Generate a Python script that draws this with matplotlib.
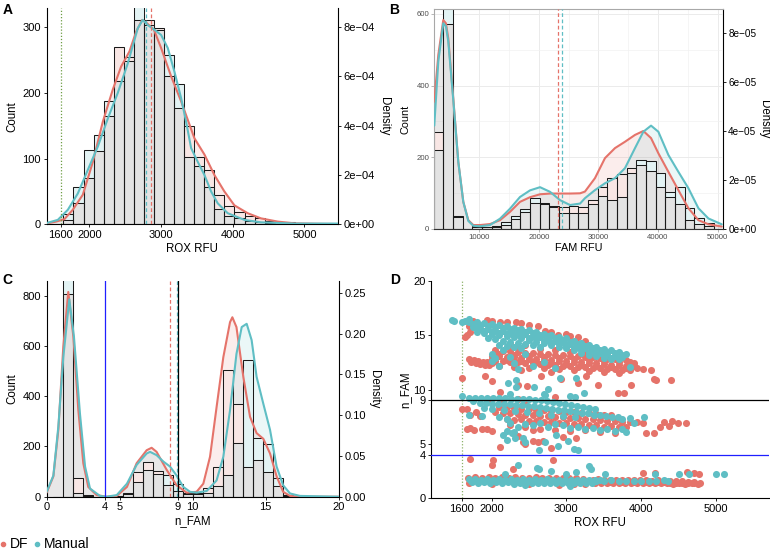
import matplotlib.pyplot as plt
import numpy as np
from matplotlib.lines import Line2D

plt.rcParams['font.family'] = ['Liberation Sans', 'DejaVu Sans']
plt.rcParams['axes.unicode_minus'] = True

RED = '#E5736A'
CYAN = '#5FBEC4'
RED_TINT = '#F8E6E4'
CYAN_TINT = '#E3F3F4'
GREY = '#E3E3E3'
MINUS = '\u2212'

# ---------------- A: ROX RFU ----------------
a_edges = [1636, 1776, 1917, 2057, 2198, 2338, 2479, 2620, 2760, 2900, 3041, 3182,
           3322, 3462, 3603, 3744, 3884, 4024, 4165, 4306, 4446, 4586, 4727, 4868]
a_df = [7, 32, 70, 111, 164, 270, 254, 310, 310, 298, 225, 177, 149, 103, 83, 45, 28, 18, 13, 9, 5, 3, 4]
a_man = [15, 56, 113, 136, 188, 218, 248, 335, 303, 296, 258, 214, 102, 88, 57, 23, 13, 9, 5, 3, 2, 1, 0]
# density curves (x1e-4)
a_df_x = [1400, 1535, 1650, 1767, 1907, 2047, 2186, 2326, 2442, 2558, 2651, 2735, 2800, 2900,
          3000, 3140, 3279, 3465, 3605, 3744, 3884, 4023, 4209, 4395, 4628, 4860, 5200, 5470]
a_df_d = [0.03, 0.11, 0.21, 0.59, 1.20, 2.53, 4.16, 5.47, 6.40, 7.01, 7.81, 8.29, 8.16, 7.89,
          7.15, 6.00, 4.99, 3.49, 2.83, 2.00, 1.33, 0.77, 0.45, 0.24, 0.11, 0.04, 0.02, 0.01]
a_man_x = [1400, 1558, 1698, 1837, 1977, 2116, 2256, 2395, 2535, 2674, 2744, 2814, 2907, 3000,
           3093, 3186, 3279, 3349, 3419, 3512, 3605, 3698, 3791, 3930, 4163, 4395, 4860, 5200, 5470]
a_man_d = [0.05, 0.18, 0.59, 1.25, 2.21, 3.15, 4.29, 5.33, 6.53, 7.95, 8.29, 8.08, 7.89, 7.68,
           7.15, 6.19, 5.12, 4.16, 3.09, 2.53, 2.00, 1.33, 0.85, 0.45, 0.18, 0.08, 0.03, 0.03, 0.03]
a_mean_df, a_mean_man, rox_cut = 2860, 2795, 1600

# ---------------- B: FAM RFU ----------------
b_edges = [2340, 3960, 5580, 7200, 8820, 10440, 12060, 13680, 15300, 16920, 18540, 20160, 21780,
           23400, 25020, 26640, 28260, 29880, 31500, 33120, 34740, 36360, 37980, 39600, 41220,
           42840, 44460, 46080, 47700, 49320]
b_df = [270, 572, 36, 0, 7, 6, 8, 10, 27, 46, 71, 68, 64, 61, 64, 62, 80, 117, 141, 152,
        169, 178, 162, 117, 89, 68, 24, 12, 8]
b_man = [220, 650, 34, 0, 5, 4, 5, 20, 36, 55, 85, 73, 62, 43, 43, 43, 69, 92, 80, 88,
         157, 192, 189, 155, 102, 117, 57, 29, 15]
# density curves (x1e-5)
b_x = [2450, 3125, 3960, 4408, 4800, 5640, 6480, 7320, 8160, 9000, 10120, 11800, 13480, 15160,
       16840, 18520, 20200, 21880, 23560, 25240, 26920, 27740, 29420, 31100, 32780, 34460,
       36140, 37540, 38830, 40060, 41740, 43420, 45100, 46780, 48460, 50700]
b_df_d = [5.20, 7.11, 8.54, 8.41, 7.79, 5.33, 2.74, 1.10, 0.35, 0.15, 0.15, 0.19, 0.35, 0.69,
          1.10, 1.29, 1.41, 1.44, 1.44, 1.44, 1.45, 1.52, 2.07, 2.89, 3.30, 3.56, 3.84, 4.00,
          3.71, 3.09, 2.33, 1.58, 0.84, 0.35, 0.18, 0.09]
b_man_d = [4.22, 6.84, 8.41, 8.28, 7.66, 5.27, 2.74, 1.10, 0.32, 0.12, 0.10, 0.15, 0.41, 0.82,
           1.30, 1.57, 1.70, 1.51, 1.17, 0.97, 1.03, 1.25, 1.58, 1.86, 2.07, 2.48, 3.30, 3.97,
           4.22, 3.97, 3.02, 2.33, 1.66, 0.84, 0.42, 0.18]
b_mean_df, b_mean_man = 23140, 23970

# ---------------- C: n_FAM ----------------
c_edges = [0.45, 1.135, 1.82, 2.505, 3.19, 3.875, 4.56, 5.245, 5.93, 6.615, 7.30, 7.985, 8.67,
           9.355, 10.04, 10.725, 11.41, 12.095, 12.78, 13.465, 14.15, 14.835, 15.52, 16.205, 16.89]
c_df = [0, 809, 74, 6, 0, 0, 2, 16, 97, 139, 103, 46, 24, 10, 13, 33, 119, 504, 369, 117, 146, 100, 44, 4]
c_man = [0, 880, 13, 3, 0, 0, 1, 10, 60, 107, 90, 87, 49, 14, 9, 13, 44, 86, 212, 544, 235, 210, 73, 7]
c_df_x = [0, 0.46, 0.8, 1.14, 1.48, 1.83, 2.17, 2.51, 2.85, 3.42, 4.1, 4.8, 5.5, 6.16, 6.85, 7.19,
          7.53, 8.22, 8.9, 9.59, 10.27, 10.73, 11.19, 11.64, 12.1, 12.56, 12.72, 13.0, 13.47,
          13.93, 14.38, 14.84, 15.3, 15.75, 16.2, 16.67, 17.35, 20]
c_df_d = [0.005, 0.025, 0.082, 0.184, 0.251, 0.196, 0.106, 0.041, 0.012, 0.002, 0.0, 0.001, 0.012,
          0.041, 0.057, 0.060, 0.055, 0.033, 0.014, 0.005, 0.006, 0.016, 0.049, 0.110, 0.171,
          0.214, 0.220, 0.208, 0.147, 0.098, 0.078, 0.071, 0.053, 0.025, 0.006, 0.001, 0.0, 0.0]
c_man_x = [0, 0.46, 0.8, 1.14, 1.55, 1.87, 2.28, 2.63, 2.97, 3.65, 4.1, 4.8, 5.5, 6.16, 6.85, 7.08,
           7.53, 8.0, 8.45, 8.9, 9.36, 9.82, 10.27, 10.96, 11.64, 12.1, 12.56, 13.0, 13.36, 13.7,
           14.04, 14.38, 14.84, 15.3, 15.75, 16.2, 16.67, 17.35, 20]
c_man_d = [0.006, 0.026, 0.086, 0.171, 0.242, 0.196, 0.102, 0.037, 0.010, 0.001, 0.0, 0.002, 0.016,
           0.039, 0.053, 0.055, 0.051, 0.043, 0.037, 0.026, 0.012, 0.006, 0.005, 0.007, 0.020,
           0.049, 0.106, 0.175, 0.208, 0.212, 0.192, 0.147, 0.114, 0.082, 0.037, 0.014, 0.004,
           0.001, 0.0]
c_mean_df, c_mean_man = 8.45, 8.9
nfam_neg, nfam_pos = 4, 9

# ---------------- D: ROX RFU vs n_FAM ----------------
df_upper = [
    (1756, 16.3), (1933, 16.4), (2000, 16.3), (2111, 16.25), (2200, 16.2), (2333, 16.2), (2400, 16.1),
    (2500, 15.95), (2622, 15.8), (2711, 15.4), (2800, 15.25), (2889, 15.0), (3000, 15.15), (3050, 14.9),
    (3150, 14.8), (3250, 14.5), (1700, 15.8), (1711, 15.3), (1667, 15.0), (1644, 14.85),
    (1700, 12.8), (1760, 12.7), (1820, 12.6), (1880, 12.55), (1940, 12.5), (2000, 12.4), (1730, 12.5),
    (1790, 12.45), (1850, 12.35), (1910, 12.3), (1970, 12.25),
    (2050, 13.6), (2150, 13.55), (2250, 13.5), (2350, 13.45), (2450, 13.4), (2550, 13.35), (2650, 13.3),
    (2750, 13.25), (2850, 13.2), (2950, 13.15), (3050, 13.1), (3150, 13.05), (3250, 13.0), (3350, 12.95),
    (3450, 12.9), (3550, 12.85), (3650, 12.8),
    (2100, 13.3), (2300, 13.2), (2500, 13.1), (2700, 13.0), (2900, 12.9), (3100, 12.8), (3300, 12.7),
    (3500, 12.6), (3700, 12.5), (3900, 12.4),
    (2000, 13.1), (2100, 13.05), (2200, 13.0), (2300, 12.95), (2400, 12.9), (2500, 12.85), (2600, 12.8),
    (2700, 12.75), (2800, 12.7), (2900, 12.65), (3000, 12.6), (3100, 12.55), (3200, 12.5), (3300, 12.45),
    (3400, 12.4), (3500, 12.35), (3600, 12.3), (3700, 12.25), (3800, 12.2), (3900, 12.15),
    (2000, 12.85), (2200, 12.75), (2400, 12.65), (2600, 12.55), (2800, 12.45), (3000, 12.35),
    (3200, 12.25), (3400, 12.15), (3600, 12.05), (3800, 11.95),
    (2050, 12.65), (2150, 12.6), (2250, 12.55), (2350, 12.5), (2450, 12.45), (2550, 12.4), (2650, 12.35),
    (2750, 12.3), (2850, 12.25), (2950, 12.2), (3050, 12.15), (3150, 12.1), (3250, 12.05), (3350, 12.0),
    (3450, 11.95), (3550, 11.9), (3650, 11.85), (3750, 11.8), (3850, 11.75),
    (2100, 12.2), (2300, 12.1), (2500, 12.0), (2700, 11.95), (2900, 11.9), (3100, 11.75), (3300, 11.7),
    (3500, 11.6), (3700, 11.55), (2400, 11.8), (2800, 11.6),
    (2250, 14.2), (2450, 14.1), (2350, 13.9), (2650, 13.7), (2850, 13.6), (3050, 13.45), (3250, 13.3),
    (3450, 13.2), (3650, 13.0), (3800, 12.7), (3850, 12.5),
    (3900, 12.2), (3950, 11.95), (4022, 11.85), (4133, 11.8), (4178, 11.0), (4200, 10.9), (4400, 10.9),
    (3867, 10.4), (3769, 9.65),
    (1609, 11.1), (1911, 11.2), (2000, 10.8), (2111, 9.8), (2356, 10.4), (2480, 10.3), (2667, 11.2),
    (2844, 9.3), (2933, 11.0), (3156, 10.6), (3267, 11.2), (3422, 10.4),
]
df_middle = [
    (2100, 8.4), (2200, 8.35), (2300, 8.3), (2400, 8.25), (2500, 8.2), (2600, 8.15), (2700, 8.1),
    (2800, 8.05), (2900, 8.0), (3000, 7.95), (3100, 7.9), (3200, 7.85), (3300, 7.8), (3400, 7.75),
    (3500, 7.7), (3600, 7.65),
    (2050, 7.9), (2150, 7.85), (2250, 7.8), (2350, 7.75), (2450, 7.7), (2550, 7.65), (2650, 7.6),
    (2750, 7.55), (2850, 7.5), (2950, 7.45), (3050, 7.4), (3150, 7.35), (3250, 7.3), (3350, 7.25),
    (3450, 7.2), (3550, 7.15), (3650, 7.1), (3750, 7.05), (3850, 7.0), (3950, 7.0), (4020, 6.95),
    (2200, 7.3), (2300, 7.2), (2400, 7.25), (2500, 7.1), (2600, 7.15), (2700, 7.0), (2800, 7.05),
    (2900, 6.9), (3000, 6.95), (3100, 6.8), (3200, 6.85), (3300, 6.7), (3400, 6.75), (3500, 6.6),
    (3600, 6.65), (3700, 6.55), (3800, 6.6),
    (2250, 6.7), (2450, 6.6), (2650, 6.4), (2850, 6.3), (3050, 6.2), (3250, 6.3), (3450, 6.1),
    (3650, 6.0), (2550, 6.3),
    (1950, 9.1), (2150, 9.05), (2350, 9.1), (2450, 8.95),
    (1609, 8.25), (1667, 8.2), (1711, 7.7), (1790, 7.9), (1844, 7.6), (1667, 6.4), (1711, 6.5),
    (1760, 6.3), (1867, 6.4), (1933, 6.4), (2000, 6.2),
    (2111, 4.7), (2422, 5.2), (2444, 5.0), (2555, 5.3), (2622, 5.2), (2689, 5.3), (2800, 4.6),
    (3133, 5.5), (2350, 5.7), (2950, 5.6),
    (4067, 6.0), (4169, 6.0), (4255, 6.6), (4300, 7.05), (4378, 6.65), (4409, 7.1), (4489, 6.9),
    (4600, 6.95), (3689, 9.7),
]
df_lower = [
    (1690, 1.9), (1780, 1.95), (1870, 1.9), (1960, 1.95), (2050, 1.9), (2140, 1.95), (2230, 1.9),
    (2320, 1.95), (2410, 1.9), (2500, 1.9), (2590, 1.95), (2680, 1.9), (2770, 1.9), (2860, 1.9),
    (2950, 1.85), (3040, 1.85), (3130, 1.85), (3220, 1.8),
    (3350, 1.7), (3430, 1.75), (3510, 1.7), (3590, 1.65), (3670, 1.7), (3750, 1.65), (3830, 1.7),
    (3910, 1.65), (3990, 1.7), (4070, 1.65), (4150, 1.6), (4230, 1.65), (4310, 1.6), (4390, 1.6),
    (4470, 1.55), (4550, 1.6), (4630, 1.5), (4710, 1.5), (4790, 1.45),
    (3350, 1.55), (3430, 1.55), (3510, 1.55), (3590, 1.5), (3670, 1.55), (3750, 1.5), (3830, 1.55),
    (3910, 1.5), (3990, 1.55), (4070, 1.5), (4150, 1.5), (4230, 1.5), (4310, 1.5), (4390, 1.45),
    (4470, 1.45), (4550, 1.45), (4630, 1.4), (4710, 1.4),
    (3390, 1.4), (3470, 1.45), (3550, 1.4), (3630, 1.45), (3710, 1.4), (3790, 1.45), (3870, 1.4),
    (3950, 1.45), (4030, 1.4), (4110, 1.45), (4190, 1.4), (4270, 1.4), (4350, 1.4), (4430, 1.35),
    (4510, 1.4), (4590, 1.35), (4680, 1.4), (4760, 1.35),
    (1700, 1.45), (2000, 1.3), (2500, 1.3), (2900, 1.25), (3100, 1.3), (3250, 1.35),
    (1711, 3.6), (2022, 3.5), (2000, 3.06), (2289, 2.66), (2822, 3.5), (4022, 2.3), (4187, 2.3),
    (4613, 2.4), (4711, 2.36), (4778, 2.2),
]
man_upper = [
    (1470, 16.4), (1500, 16.3), (1600, 16.2), (1650, 16.3), (1698, 16.5),
    (1700, 16.25), (1800, 16.2), (1900, 16.1), (2000, 16.0), (2100, 15.9), (2200, 15.8), (2300, 15.7),
    (2400, 15.6), (2500, 15.45), (2600, 15.3), (2700, 15.15), (2800, 15.0), (2900, 14.85), (3000, 14.7),
    (3100, 14.5), (3200, 14.3), (3300, 14.1), (3400, 13.9), (3500, 13.75), (3600, 13.6), (3700, 13.45),
    (3800, 13.3),
    (1750, 16.0), (1850, 15.95), (1950, 15.85), (2050, 15.75), (2150, 15.65), (2250, 15.55), (2350, 15.45),
    (2450, 15.33), (2550, 15.18), (2650, 15.03), (2750, 14.88), (2850, 14.73), (2950, 14.58), (3050, 14.4),
    (3150, 14.2), (3250, 14.0), (3350, 13.8), (3450, 13.63), (3550, 13.48), (3650, 13.33), (3750, 13.18),
    (1750, 15.75), (1850, 15.7), (1950, 15.6), (2050, 15.5), (2150, 15.4), (2250, 15.3), (2350, 15.2),
    (2450, 15.1), (2550, 14.95), (2650, 14.8), (2750, 14.65), (2850, 14.5), (2950, 14.35), (3050, 14.2),
    (3150, 14.0), (3250, 13.8), (3350, 13.6), (3450, 13.4), (3550, 13.25), (3650, 13.1), (3750, 12.95),
    (1800, 15.52), (1900, 15.42), (2000, 15.32), (2100, 15.22), (2200, 15.12), (2300, 15.02), (2400, 14.92),
    (2500, 14.77), (2600, 14.62), (2700, 14.47), (2800, 14.32), (2900, 14.17), (3000, 14.02), (3100, 13.82),
    (3200, 13.62), (3300, 13.42), (3400, 13.22), (3500, 13.07), (3600, 12.92), (3700, 12.77),
    (1800, 15.3), (1900, 15.2), (2000, 15.1), (2100, 15.0), (2200, 14.9), (2300, 14.8), (2400, 14.7),
    (2500, 14.55), (2600, 14.4), (2700, 14.25), (2800, 14.1), (2900, 13.95), (3000, 13.8), (3100, 13.6),
    (3200, 13.4), (3300, 13.2), (3400, 13.05), (3500, 12.9), (3600, 12.8),
    (1950, 14.7), (2050, 14.6), (2150, 14.5), (2250, 14.4), (2350, 14.3), (2450, 14.2), (2550, 14.05),
    (2650, 13.9),
    (2100, 14.1), (2200, 14.0), (2300, 13.95), (2400, 13.85),
    (2000, 13.3), (2050, 12.9), (2000, 12.6), (2100, 12.2), (2150, 13.6), (2250, 13.0), (2300, 12.4),
    (2350, 11.9), (2450, 13.3), (2550, 12.2), (2700, 12.5), (2850, 12.0),
    (2222, 10.6), (2333, 10.2), (2569, 10.2), (2756, 10.05), (2711, 9.5), (2911, 11.1), (3133, 11.1),
    (3120, 9.3), (3236, 9.65), (3858, 12.1), (2324, 10.9),
]
man_middle = [
    (1780, 9.25), (1860, 9.25), (1940, 9.2), (2020, 9.2), (2100, 9.2), (2180, 9.2), (2260, 9.15),
    (2340, 9.15), (2420, 9.1), (2500, 9.1), (2580, 9.05), (2660, 9.0), (2740, 8.95), (2820, 8.85),
    (2900, 8.8), (2980, 8.7), (3060, 8.6), (3140, 8.5), (3220, 8.4), (3300, 8.3), (3380, 8.2),
    (1850, 8.75), (1930, 8.75), (2010, 8.7), (2090, 8.7), (2170, 8.7), (2250, 8.65), (2330, 8.6),
    (2410, 8.55), (2490, 8.5), (2570, 8.45), (2650, 8.4), (2730, 8.3), (2810, 8.25), (2890, 8.15),
    (2970, 8.1), (3050, 8.0), (3130, 7.95), (3210, 7.85), (3290, 7.8), (3370, 7.7), (3450, 7.65),
    (3530, 7.6), (3610, 7.5), (3690, 7.45),
    (2000, 8.2), (2160, 8.15), (2320, 8.05), (2480, 7.95), (2640, 7.85), (2800, 7.7), (2960, 7.55),
    (3120, 7.45),
    (2100, 7.5), (2200, 7.3), (2250, 6.9), (2350, 6.6), (2450, 6.8), (2550, 6.7), (2650, 6.9),
    (2750, 6.6), (2850, 6.8), (2950, 6.7), (3050, 6.5), (3150, 6.6), (3250, 6.4), (3350, 6.5),
    (3450, 6.3), (3550, 6.4), (3650, 6.2), (3750, 6.4), (3800, 6.1), (2200, 6.2), (2150, 5.8),
    (2300, 6.1),
    (3750, 7.3), (3850, 7.4), (4036, 7.45), (3900, 6.9),
    (1702, 7.65), (1867, 7.55), (1750, 8.9), (1900, 8.3), (1609, 9.4), (1702, 9.25),
    (2311, 5.5), (2422, 5.5), (2631, 4.45), (3102, 4.5), (3156, 4.45), (2889, 4.85), (2720, 5.2),
    (2267, 6.0), (2444, 5.15), (2867, 5.8), (3022, 5.3), (2200, 5.4),
    (2700, 9.6), (3050, 9.4), (2250, 9.55),
]
man_lower = [
    (1700, 1.75), (1780, 1.75), (1860, 1.7), (1940, 1.75), (2020, 1.7), (2100, 1.75), (2180, 1.7),
    (2260, 1.75), (2340, 1.7), (2420, 1.75), (2500, 1.7), (2580, 1.75), (2660, 1.7), (2740, 1.75),
    (2820, 1.7), (2900, 1.7), (2980, 1.7), (3060, 1.7), (3140, 1.7), (3220, 1.7), (3300, 1.7),
    (3380, 1.7), (3450, 1.7),
    (1720, 1.6), (1800, 1.6), (1880, 1.6), (1960, 1.6), (2040, 1.6), (2120, 1.6), (2200, 1.6),
    (2280, 1.6), (2360, 1.55), (2440, 1.6), (2520, 1.55), (2600, 1.6), (2680, 1.55), (2760, 1.6),
    (2840, 1.55), (2920, 1.55), (3000, 1.55), (3080, 1.55), (3160, 1.55), (3240, 1.55), (3320, 1.55),
    (3400, 1.55),
    (1740, 1.5), (1820, 1.45), (1900, 1.5), (1980, 1.45), (2060, 1.5), (2140, 1.45), (2220, 1.5),
    (2300, 1.45), (2380, 1.4), (2460, 1.45), (2540, 1.4), (2620, 1.45), (2700, 1.4), (2780, 1.45),
    (2860, 1.45), (2940, 1.4), (3020, 1.45), (3100, 1.45), (3180, 1.4), (3260, 1.45), (3340, 1.45),
    (3500, 1.6), (3600, 1.65), (3700, 1.6), (3800, 1.55), (3900, 1.6), (4000, 1.6), (4100, 1.55),
    (4200, 1.6), (4300, 1.65), (4355, 1.55), (3044, 1.13), (2450, 1.25), (2300, 1.3),
    (2356, 3.06), (2613, 2.8), (2631, 2.65), (2800, 2.5), (3000, 2.24), (3133, 2.4), (3298, 2.97),
    (3333, 2.7), (3511, 2.24), (4187, 2.24), (4511, 2.24), (4644, 2.24), (5000, 2.2), (5111, 2.2),
    (2178, 2.24),
]

TICK_FS = 8
LAB_FS = 8.3


def style_classic(ax):
    for s in ['top', 'right']:
        ax.spines[s].set_visible(False)
    for s in ['left', 'bottom']:
        ax.spines[s].set_linewidth(0.8)
        ax.spines[s].set_color('black')
    ax.tick_params(length=2.5, width=0.6, labelsize=TICK_FS, pad=1.5)


def draw_hist(ax, edges, df, man):
    edges = np.array(edges, dtype=float)
    left = edges[:-1]
    w = np.diff(edges)
    df = np.array(df)
    man = np.array(man)
    ax.bar(left, df, w, align='edge', color=RED_TINT, lw=0, zorder=2)
    ax.bar(left, man, w, align='edge', color=CYAN_TINT, lw=0, zorder=2)
    ax.bar(left, np.minimum(df, man), w, align='edge', color=GREY, lw=0, zorder=2.1)
    ax.bar(left, df, w, align='edge', fill=False, edgecolor='#1a1a1a', lw=0.75, zorder=2.2)
    ax.bar(left, man, w, align='edge', fill=False, edgecolor='#1a1a1a', lw=0.75, zorder=2.2)


def draw_density(ax, x, d, scale, color):
    y = np.array(d) * scale
    ax.fill_between(x, 0, y, color=color, alpha=0.12, lw=0, zorder=1)
    ax.plot(x, y, color=color, lw=1.5, zorder=3, solid_capstyle='round')


def density_axis(ax, k, ticks, labels, pad, size=TICK_FS):
    sec = ax.secondary_yaxis('right', functions=(lambda c: c / k, lambda d: d * k))
    sec.set_yticks(ticks)
    sec.set_yticklabels(labels)
    sec.spines['right'].set_linewidth(0.8)
    sec.tick_params(length=2.5, width=0.6, labelsize=size, pad=1.5)
    sec.set_ylabel('Density', rotation=270, va='bottom', fontsize=LAB_FS, labelpad=pad)
    return sec


fig = plt.figure(figsize=(7.7, 5.51), dpi=100)

# ---- A ----
axA = fig.add_axes([0.0604, 0.5929, 0.3786, 0.3926])
k_a = 300 / 8e-4
draw_density(axA, a_df_x, a_df_d, 1e-4 * k_a, RED)
draw_density(axA, a_man_x, a_man_d, 1e-4 * k_a, CYAN)
draw_hist(axA, a_edges, a_df, a_man)
axA.axvline(a_mean_man, color=CYAN, lw=0.9, ls=(0, (3, 2)), zorder=4)
axA.axvline(a_mean_df, color=RED, lw=0.9, ls=(0, (3, 2)), zorder=4)
axA.axvline(rox_cut, color='#6E9E45', lw=0.9, ls=(0, (1, 1.5)), zorder=4)
axA.set_xlim(1400, 5470)
axA.set_ylim(0, 329)
axA.set_xticks([1600, 2000, 3000, 4000, 5000])
axA.set_yticks([0, 100, 200, 300])
style_classic(axA)
axA.set_xlabel('ROX RFU', fontsize=LAB_FS, labelpad=2)
axA.set_ylabel('Count', fontsize=LAB_FS, labelpad=3)
density_axis(axA, k_a, [0, 2e-4, 4e-4, 6e-4, 8e-4],
             ['0e+00', '2e' + MINUS + '04', '4e' + MINUS + '04', '6e' + MINUS + '04', '8e' + MINUS + '04'], 2)

# ---- B ----
axB = fig.add_axes([0.5640, 0.5849, 0.3745, 0.3982])
k_b = 546 / 8e-5
axB.set_xlim(2450, 50850)
axB.set_ylim(0, 613)
axB.set_xticks([10000, 20000, 30000, 40000, 50000])
axB.set_xticks([5000, 15000, 25000, 35000, 45000], minor=True)
axB.set_yticks([0, 200, 400, 600])
axB.set_yticks([100, 300, 500], minor=True)
axB.grid(which='major', color='#EBEBEB', lw=0.7, zorder=0)
axB.grid(which='minor', color='#F2F2F2', lw=0.5, zorder=0)
axB.set_axisbelow(True)
draw_density(axB, b_x, b_df_d, 1e-5 * k_b, RED)
draw_density(axB, b_x, b_man_d, 1e-5 * k_b, CYAN)
draw_hist(axB, b_edges, b_df, b_man)
axB.axvline(b_mean_df, color=RED, lw=0.9, ls=(0, (3, 2)), zorder=4)
axB.axvline(b_mean_man, color=CYAN, lw=0.9, ls=(0, (3, 2)), zorder=4)
axB.spines['right'].set_visible(False)
for s in ['top', 'left']:
    axB.spines[s].set_color('#A8A8A8')
    axB.spines[s].set_linewidth(0.8)
axB.spines['bottom'].set_color('#333333')
axB.spines['bottom'].set_linewidth(0.8)
axB.tick_params(which='both', length=2, width=0.5, color='#9A9A9A', labelsize=5.6,
                labelcolor='#4D4D4D', pad=1.5)
axB.tick_params(which='minor', length=0)
axB.set_xlabel('FAM RFU', fontsize=LAB_FS - 0.5, labelpad=2)
axB.set_ylabel('Count', fontsize=LAB_FS - 0.5, labelpad=4)
density_axis(axB, k_b, [0, 2e-5, 4e-5, 6e-5, 8e-5],
             ['0e+00', '2e' + MINUS + '05', '4e' + MINUS + '05', '6e' + MINUS + '05', '8e' + MINUS + '05'],
             1, size=7.2)

# ---- C ----
axC = fig.add_axes([0.0606, 0.0985, 0.3792, 0.3920])
k_c = 812 / 0.25
draw_density(axC, c_df_x, c_df_d, k_c, RED)
draw_density(axC, c_man_x, c_man_d, k_c, CYAN)
draw_hist(axC, c_edges, c_df, c_man)
axC.axvline(nfam_neg, color='#1F1FFF', lw=0.9, zorder=4)
axC.axvline(c_mean_df, color=RED, lw=0.9, ls=(0, (3, 2)), zorder=4)
axC.axvline(c_mean_man, color=CYAN, lw=0.9, ls=(0, (3, 2)), zorder=4)
axC.axvline(nfam_pos, color='black', lw=0.9, zorder=4)
axC.set_xlim(0, 20)
axC.set_ylim(0, 860)
axC.set_xticks([0, 4, 5, 9, 10, 15, 20])
axC.set_yticks([0, 200, 400, 600, 800])
style_classic(axC)
axC.set_xlabel('n_FAM', fontsize=LAB_FS, labelpad=2)
axC.set_ylabel('Count', fontsize=LAB_FS, labelpad=3)
density_axis(axC, k_c, [0, 0.05, 0.10, 0.15, 0.20, 0.25],
             ['0.00', '0.05', '0.10', '0.15', '0.20', '0.25'], 2)

# ---- D ----
axD = fig.add_axes([0.5597, 0.0956, 0.4390, 0.3949])
df_pts = np.array(df_upper + df_middle + df_lower)
man_pts = np.array(man_upper + man_middle + man_lower)
axD.scatter(df_pts[:, 0], df_pts[:, 1], s=26, color=RED, lw=0, zorder=2)
axD.scatter(man_pts[:, 0], man_pts[:, 1], s=26, color=CYAN, lw=0, zorder=3)
axD.axhline(nfam_pos, color='black', lw=0.9, zorder=4)
axD.axhline(nfam_neg, color='#1F1FFF', lw=0.9, zorder=4)
axD.axvline(rox_cut, color='#8DB36A', lw=0.9, ls=(0, (1, 1.5)), zorder=1)
axD.set_xlim(1190, 5710)
axD.set_ylim(0, 20)
axD.set_xticks([1600, 2000, 3000, 4000, 5000])
axD.set_yticks([0, 4, 5, 9, 10, 15, 20])
style_classic(axD)
axD.set_xlabel('ROX RFU', fontsize=LAB_FS, labelpad=2)
axD.set_ylabel('n_FAM', fontsize=LAB_FS, labelpad=1)

# panel letters
for lab, x, y in [('A', 0.003, 0.995), ('B', 0.506, 0.995), ('C', 0.003, 0.505), ('D', 0.507, 0.505)]:
    fig.text(x, y, lab, fontsize=10, fontweight='bold', va='top', ha='left')

handles = [Line2D([], [], marker='o', ls='', color=RED, markersize=3),
           Line2D([], [], marker='o', ls='', color=CYAN, markersize=3)]
fig.legend(handles, ['DF', 'Manual'], loc='center left', bbox_to_anchor=(0.0, 0.012),
           ncol=2, frameon=False, fontsize=10, handlelength=0.4, handletextpad=0.3,
           columnspacing=0.4, borderpad=0, borderaxespad=0)

fig.savefig('out.png', dpi=100)
